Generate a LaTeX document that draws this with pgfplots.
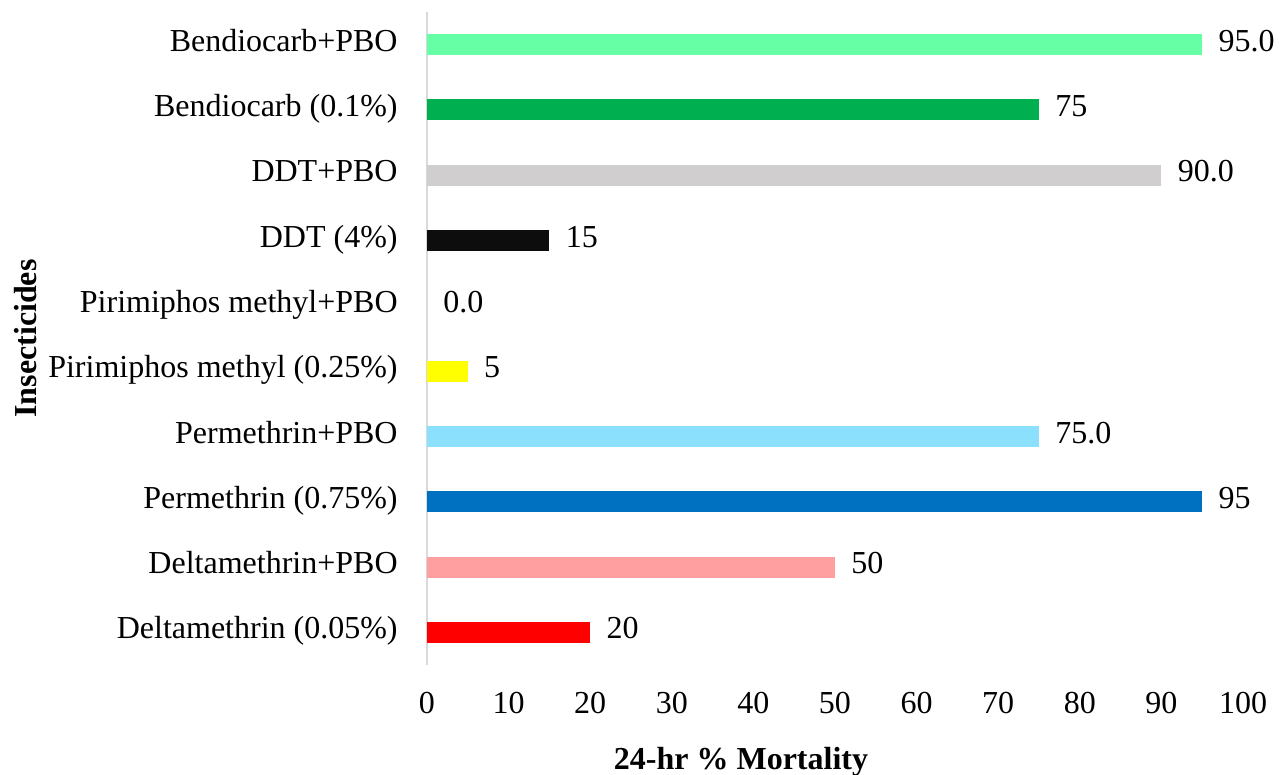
\documentclass[border=0pt]{standalone}
\usepackage{fontspec}
\setmainfont{Liberation Serif}
\usepackage{pgfplots}
\pgfplotsset{compat=1.18}

\definecolor{bendpbo}{HTML}{66FFA6}
\definecolor{bend}{HTML}{00B050}
\definecolor{ddtpbo}{HTML}{D0CECE}
\definecolor{ddt}{HTML}{0D0D0D}
\definecolor{piri}{HTML}{FFFF00}
\definecolor{permpbo}{HTML}{8BE0FE}
\definecolor{perm}{HTML}{0070C0}
\definecolor{deltapbo}{HTML}{FF9F9F}
\definecolor{delta}{HTML}{FF0000}
\definecolor{axisgray}{HTML}{D9D9D9}

\begin{document}
\begin{tikzpicture}[font=\fontsize{16}{19.2}\selectfont]
\begin{axis}[
  scale only axis,
  width=408pt, height=326.5pt,
  xbar, bar width=10.5pt, bar shift=0pt,
  xmin=0, xmax=100, ymin=-0.5, ymax=9.5,
  axis lines*=left,
  x axis line style={draw=none},
  y axis line style={draw=axisgray, line width=1pt},
  major tick length=0pt,
  xtick={0,10,...,100},
  ytick={0,...,9},
  yticklabels={Deltamethrin (0.05\%), Deltamethrin+PBO, Permethrin (0.75\%),
    Permethrin+PBO, Pirimiphos methyl (0.25\%), Pirimiphos methyl+PBO,
    DDT (4\%), DDT+PBO, Bendiocarb (0.1\%), Bendiocarb+PBO},
  /pgf/number format/assume math mode=true,
  xticklabel style={anchor=base, inner sep=0pt, yshift=-24.5pt},
  yticklabel style={anchor=base east, inner sep=0pt, xshift=-14.5pt, yshift=-0.33em},
  point meta=explicit symbolic,
  nodes near coords,
  every node near coord/.append style={anchor=base west, inner sep=0pt, xshift=8pt, yshift=-0.33em, text=black},
  xlabel={\textbf{24-hr \% Mortality}},
  ylabel={\textbf{Insecticides}},
  every axis x label/.style={at={(rel axis cs:0.3848,-0.1593)}, anchor=base},
  every axis y label/.style={at={(rel axis cs:-0.478,0.5)}, anchor=base, rotate=90},
  clip=false,
]
\addplot[draw=none, fill=delta]    coordinates {(20,0) [20]};
\addplot[draw=none, fill=deltapbo] coordinates {(50,1) [50]};
\addplot[draw=none, fill=perm]     coordinates {(95,2) [95]};
\addplot[draw=none, fill=permpbo]  coordinates {(75,3) [75.0]};
\addplot[draw=none, fill=piri]     coordinates {(5,4) [5]};
\addplot[draw=none, fill=none]     coordinates {(0,5) [0.0]};
\addplot[draw=none, fill=ddt]      coordinates {(15,6) [15]};
\addplot[draw=none, fill=ddtpbo]   coordinates {(90,7) [90.0]};
\addplot[draw=none, fill=bend]     coordinates {(75,8) [75]};
\addplot[draw=none, fill=bendpbo]  coordinates {(95,9) [95.0]};
\coordinate (O) at (rel axis cs:0,0);
\end{axis}
\pgfresetboundingbox
\path[use as bounding box] ([shift={(-213.5pt,-55pt)}]O) rectangle ++(642pt,387.5pt);
\end{tikzpicture}
\end{document}
